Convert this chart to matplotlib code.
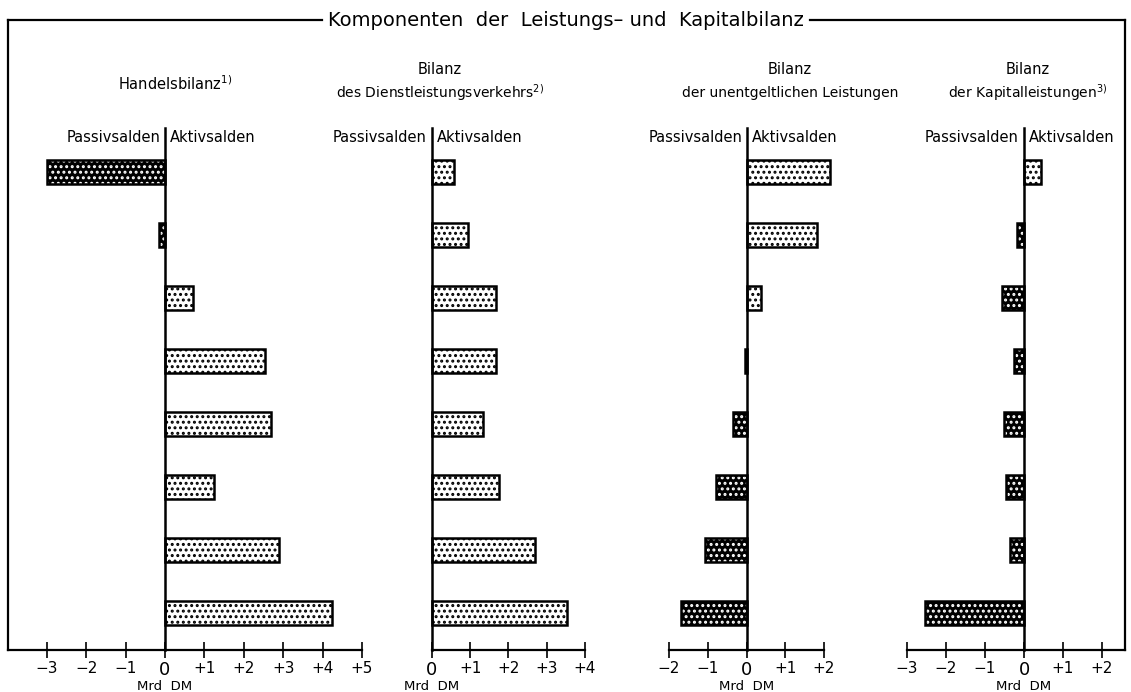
# Komponenten der Leistungs- und Kapitalbilanz: four horizontal bar panels
import matplotlib
matplotlib.use('Agg')
import matplotlib.pyplot as plt
from matplotlib.lines import Line2D
import numpy as np

W, H = 1131, 692

# values in Mrd DM, top row first
handel = [-3.0, -0.15, 0.7, 2.53, 2.68, 1.24, 2.89, 4.23]
dienst = [0.57, 0.94, 1.67, 1.67, 1.33, 1.75, 2.69, 3.52]
unentg = [2.15, 1.82, 0.38, -0.05, -0.36, -0.80, -1.08, -1.69]
kapital = [0.44, -0.18, -0.56, -0.26, -0.51, -0.46, -0.36, -2.54]

titles = [
    ['', 'Handelsbilanz$^{1)}$'],
    ['Bilanz', 'des Dienstleistungsverkehrs$^{2)}$'],
    ['Bilanz', 'der unentgeltlichen Leistungen'],
    ['Bilanz', 'der Kapitalleistungen$^{3)}$'],
]
ticks = [
    [-3, -2, -1, 0, 1, 2, 3, 4, 5],
    [0, 1, 2, 3, 4],
    [-2, -1, 0, 1, 2],
    [-3, -2, -1, 0, 1, 2],
]
series = [handel, dienst, unentg, kapital]

# panel geometry in pixels: axis left, zero, axis right, px per unit, title centre
panels = [(8, 165, 362, 39.4, 175), (432, 432, 585, 38.3, 440),
          (669, 747, 824, 39.0, 790), (907, 1024, 1125, 39.0, 1028)]

plt.rcParams['font.family'] = 'DejaVu Sans'
plt.rcParams['hatch.linewidth'] = 1.4

fig = plt.figure(figsize=(W / 100, H / 100), dpi=100)

top_px, bot_px = 128, 650
row_top, row_step = 172, 63.0
rows = np.arange(8)


def fig_line(xs, ys, **kw):
    fig.add_artist(Line2D(np.array(xs) / W, 1 - np.array(ys) / H,
                          transform=fig.transFigure, color='black', **kw))


for (left, zero, right, scale, cx), vals, tks, ttl in zip(panels, series, ticks, titles):
    ax = fig.add_axes([left / W, 1 - bot_px / H, (right - left) / W,
                       (bot_px - top_px) / H])
    ax.set_xlim((left - zero) / scale, (right - zero) / scale)
    ax.set_ylim(7 + (bot_px - 613) / row_step, -(row_top - top_px) / row_step)
    vals = np.array(vals)
    pos = np.where(vals > 0, vals, 0)
    neg = np.where(vals < 0, vals, 0)
    for b in ax.barh(rows, pos, height=0.39, color='white', edgecolor='black',
                     hatch='...', linewidth=0):
        b.set_clip_on(False)
    for b in ax.barh(rows, neg, height=0.39, color='black', edgecolor='white',
                     hatch='...', linewidth=0):
        b.set_clip_on(False)
    for b in ax.barh(rows, vals, height=0.39, fill=False, edgecolor='black',
                     linewidth=1.8):
        b.set_clip_on(False)
    ax.axvline(0, color='black', lw=1.8, clip_on=False)
    for s in ['top', 'left', 'right']:
        ax.spines[s].set_visible(False)
    ax.spines['bottom'].set_linewidth(1.6)
    ax.set_yticks([])
    ax.set_xticks(tks)
    ax.set_xticklabels(['0' if t == 0 else ('+%d' % t if t > 0 else '\u2212%d' % -t)
                        for t in tks])
    ax.tick_params(axis='x', direction='inout', length=12, width=1.2,
                   labelsize=11, pad=2)
    for lab, t in zip(ax.get_xticklabels(), tks):
        if t == 0:
            lab.set_fontsize(13)
    ax.set_facecolor('none')

    # Passivsalden | Aktivsalden
    fy = 1 - 137 / H
    fig.text((zero - 5) / W, fy, 'Passivsalden', ha='right', va='center', fontsize=10.5)
    fig.text((zero + 5) / W, fy, 'Aktivsalden', ha='left', va='center', fontsize=10.5)
    fig.text(zero / W, 1 - 686 / H, 'Mrd  DM', ha='center', va='center', fontsize=9.5)

    if ttl[0]:
        fig.text(cx / W, 1 - 70 / H, ttl[0], ha='center', va='center', fontsize=10.5)
        fig.text(cx / W, 1 - 93 / H, ttl[1], ha='center', va='center', fontsize=10)
    else:
        fig.text(cx / W, 1 - 84 / H, ttl[1], ha='center', va='center', fontsize=10.5)

# frame with title in the top border
fig_line([8, 322], [20, 20], lw=1.6)
fig_line([810, 1125], [20, 20], lw=1.6)
fig_line([8, 8], [20, 650], lw=1.6)
fig_line([1125, 1125], [20, 650], lw=1.6)
fig.text(566 / W, 1 - 20 / H, 'Komponenten  der  Leistungs\u2013 und  Kapitalbilanz',
         ha='center', va='center', fontsize=14)

fig.savefig('out.png', dpi=100)
